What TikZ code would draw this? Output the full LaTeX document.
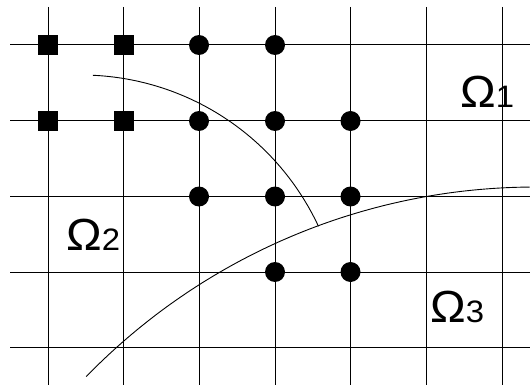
\documentclass[tikz,border=0pt]{standalone}
\usepackage{fontspec}
\setmainfont{Liberation Sans}
\newcommand{\omlabel}[1]{\scalebox{1.06}[1]{\fontsize{45}{45}\selectfont Ω\fontsize{31}{31}\selectfont #1}}
\begin{document}
\begin{tikzpicture}[x=1pt,y=-1pt,
  gridline/.style={black,line width=1pt},
  curve/.style={black,line width=0.9pt},
  sq/.style={rectangle,fill=black,minimum size=20pt,inner sep=0pt},
  dot/.style={circle,fill=black,minimum size=20pt,inner sep=0pt},
  lbl/.style={inner sep=0pt,anchor=base west}]
\useasboundingbox (0,0) rectangle (530,385);
% grid
\foreach \x in {48,123.5,199,275,350.5,426,502}
  \draw[gridline] (\x,7) -- (\x,385);
\foreach \y in {45,121,196.5,272,347.5}
  \draw[gridline] (10,\y) -- (530,\y);
% boundary curves
\draw[curve] plot[domain=-87.4:-25,samples=80] ({81+262*cos(\x)},{337+262*sin(\x)});
\draw[curve] plot[domain=-135.8:-90.5,samples=80] ({535+626*cos(\x)},{813+626*sin(\x)});
% markers
\node[sq] (s1) at (48,45) {};
\node[sq] (s2) at (123.5,45) {};
\node[sq] (s3) at (48,121) {};
\node[sq] (s4) at (123.5,121) {};
\node[dot] (d1) at (199,45) {};
\node[dot] (d2) at (275,45) {};
\node[dot] (d3) at (199,121) {};
\node[dot] (d4) at (275,121) {};
\node[dot] (d5) at (350.5,121) {};
\node[dot] (d6) at (199,196.5) {};
\node[dot] (d7) at (275,196.5) {};
\node[dot] (d8) at (350.5,196.5) {};
\node[dot] (d9) at (275,272) {};
\node[dot] (d10) at (350.5,272) {};
% labels
\node[lbl] (o1) at (460,108) {\omlabel{1}};
\node[lbl] (o2) at (66,250) {\omlabel{2}};
\node[lbl] (o3) at (430,322) {\omlabel{3}};
\end{tikzpicture}
\end{document}
